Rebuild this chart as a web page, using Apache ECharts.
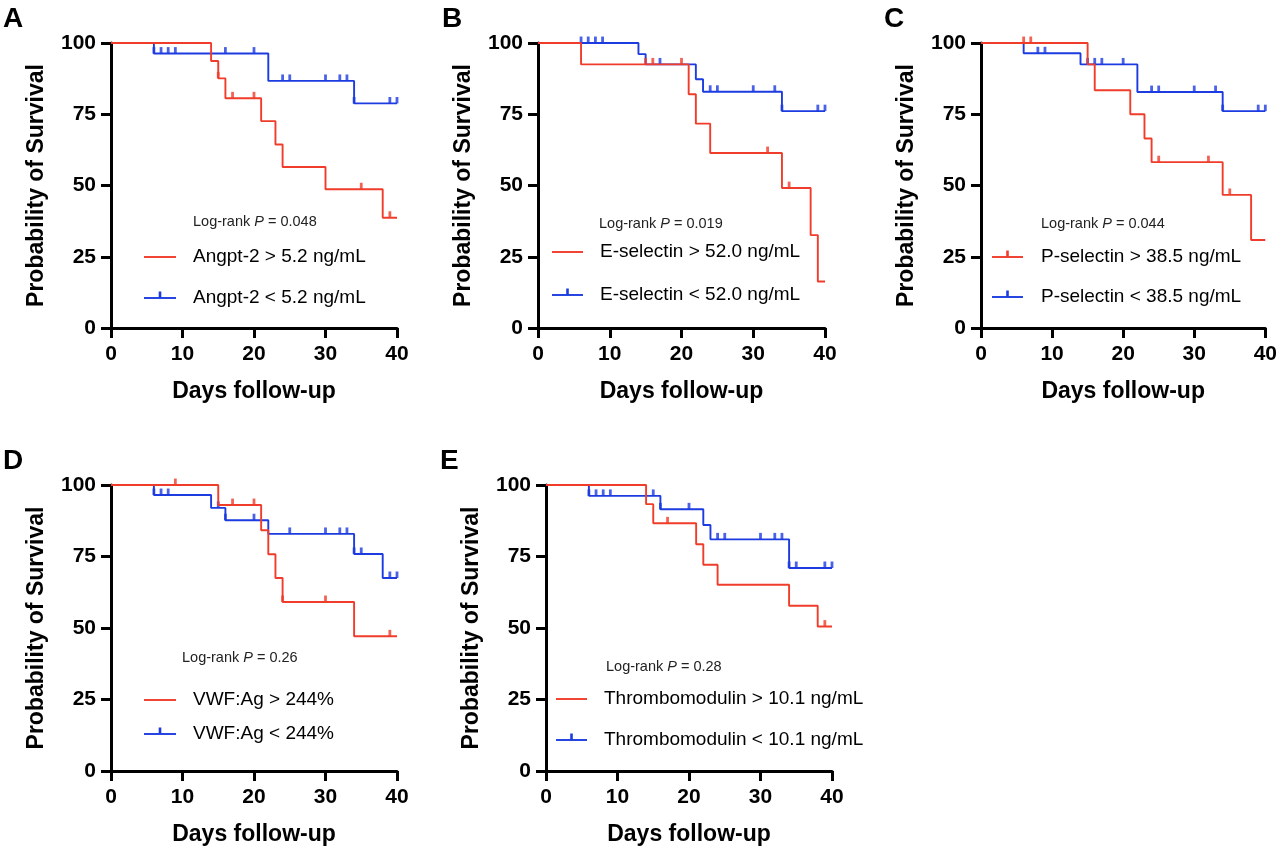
<!DOCTYPE html>
<html><head><meta charset="utf-8">
<script src="https://cdn.jsdelivr.net/npm/echarts@6/dist/echarts.min.js"></script>
<style>html,body{margin:0;padding:0;background:#fff}#c{width:1280px;height:849px}</style>
</head><body><div id="c"></div>
<script>
// ---------- DATA ----------
const panelLetters = ['A', 'B', 'C', 'D', 'E'];
const xTitle = 'Days follow-up';
const yTitle = 'Probability of Survival';

// A: Angpt-2
const A_labels = ['Angpt-2 > 5.2 ng/mL', 'Angpt-2 < 5.2 ng/mL'];
const A_p = '0.048';
const A_high_t = [0, 14, 15, 16, 21, 23, 24, 30, 38, 40];
const A_high_s = [100, 93.7, 87.6, 80.6, 72.6, 64.4, 56.5, 48.7, 38.7, 38.7];
const A_high_c = [15, 17, 20, 35, 39];
const A_low_t = [0, 6, 22, 34, 40];
const A_low_s = [100, 96.3, 86.7, 78.8, 78.8];
const A_low_c = [6, 7, 8, 9, 16, 20, 24, 25, 30, 32, 33, 34, 39, 40];

// B: E-selectin
const B_labels = ['E-selectin > 52.0 ng/mL', 'E-selectin < 52.0 ng/mL'];
const B_p = '0.019';
const B_high_t = [0, 6, 21, 22, 24, 34, 38, 39, 40];
const B_high_s = [100, 92.5, 82, 71.7, 61.4, 49.1, 32.6, 16.3, 16.3];
const B_high_c = [15, 16, 20, 32, 35];
const B_low_t = [0, 14, 15, 22, 23, 34, 40];
const B_low_s = [100, 96.1, 92.5, 87.3, 82.9, 76.1, 76.1];
const B_low_c = [6, 7, 8, 9, 17, 24, 25, 30, 33, 34, 39, 40];

// C: P-selectin
const C_labels = ['P-selectin > 38.5 ng/mL', 'P-selectin < 38.5 ng/mL'];
const C_p = '0.044';
const C_high_t = [0, 15, 16, 21, 23, 24, 34, 38, 40];
const C_high_s = [100, 92.5, 83.4, 75, 66.5, 58.2, 46.7, 30.9, 30.9];
const C_high_c = [6, 7, 25, 32, 35];
const C_low_t = [0, 6, 14, 22, 34, 40];
const C_low_s = [100, 96.4, 92.5, 82.8, 76.1, 76.1];
const C_low_c = [8, 9, 15, 16, 17, 20, 24, 25, 30, 33, 34, 39, 40];

// D: VWF:Ag
const D_labels = ['VWF:Ag > 244%', 'VWF:Ag < 244%'];
const D_p = '0.26';
const D_high_t = [0, 15, 21, 22, 23, 24, 34, 40];
const D_high_s = [100, 93, 84.2, 75.8, 67.5, 59.1, 47.1, 47.1];
const D_high_c = [9, 17, 20, 24, 30, 39];
const D_low_t = [0, 6, 14, 16, 22, 34, 38, 40];
const D_low_s = [100, 96.5, 92, 87.7, 82.9, 75.9, 67.5, 67.5];
const D_low_c = [6, 7, 8, 15, 16, 20, 25, 30, 32, 33, 34, 35, 39, 40];

// E: Thrombomodulin
const E_labels = ['Thrombomodulin > 10.1 ng/mL', 'Thrombomodulin < 10.1 ng/mL'];
const E_p = '0.28';
const E_high_t = [0, 14, 15, 21, 22, 24, 34, 38, 40];
const E_high_s = [100, 93.3, 86.6, 79.3, 72.1, 65.1, 57.8, 50.5, 50.5];
const E_high_c = [17, 39];
const E_low_t = [0, 6, 16, 22, 23, 34, 40];
const E_low_s = [100, 96.2, 91.5, 86, 81, 71, 71];
const E_low_c = [6, 7, 8, 9, 15, 16, 20, 24, 25, 30, 32, 33, 34, 35, 39, 40];

// ---------- LAYOUT / STYLE ----------
const RED = '#f03c2a', BLUE = '#1c3be0';
const FONT = '"Liberation Sans", Arial, sans-serif';
const panels = [
  {letter:'A', grid:{left:111, top:43, width:286, height:285}, labels:A_labels, p:A_p,
   hi:[A_high_t, A_high_s, A_high_c], lo:[A_low_t, A_low_s, A_low_c],
   pPos:[193,222], lx:[144,176,193], ly:[257,298], redTick:false, letterPos:[3,5]},
  {letter:'B', grid:{left:538, top:43, width:287, height:285}, labels:B_labels, p:B_p,
   hi:[B_high_t, B_high_s, B_high_c], lo:[B_low_t, B_low_s, B_low_c],
   pPos:[599,224], lx:[552,583,600], ly:[252,295], redTick:false, letterPos:[442,5]},
  {letter:'C', grid:{left:981, top:43, width:286, height:285}, labels:C_labels, p:C_p,
   hi:[C_high_t, C_high_s, C_high_c], lo:[C_low_t, C_low_s, C_low_c],
   pPos:[1041,224], lx:[992,1023,1041], ly:[257,297], redTick:true, letterPos:[884,5]},
  {letter:'D', grid:{left:111, top:485, width:286, height:286}, labels:D_labels, p:D_p,
   hi:[D_high_t, D_high_s, D_high_c], lo:[D_low_t, D_low_s, D_low_c],
   pPos:[182,658], lx:[144,176,193], ly:[700,734], redTick:false, letterPos:[3,447]},
  {letter:'E', grid:{left:546, top:485, width:286, height:286}, labels:E_labels, p:E_p,
   hi:[E_high_t, E_high_s, E_high_c], lo:[E_low_t, E_low_s, E_low_c],
   pPos:[606,667], lx:[556,587,604], ly:[699,740], redTick:false, letterPos:[440,447]}
];

function survAt(ts, ss, t) {
  let v = ss[0];
  for (let i = 0; i < ts.length; i++) if (ts[i] <= t) v = ss[i];
  return v;
}
function zip(ts, ss) { return ts.map((t, i) => [t, ss[i]]); }

const grids = [], xAxes = [], yAxes = [], series = [], graphics = [];
panels.forEach((p, i) => {
  grids.push(Object.assign({containLabel:false}, p.grid));
  xAxes.push({
    gridIndex:i, type:'value', min:0, max:40, interval:10,
    name:xTitle, nameLocation:'middle', nameGap:52,
    nameTextStyle:{fontSize:23, fontWeight:'bold', color:'#000', fontFamily:FONT},
    axisLine:{show:true, onZero:false, lineStyle:{color:'#000', width:3}},
    axisTick:{show:true, length:10, lineStyle:{color:'#000', width:3}},
    axisLabel:{fontSize:21, fontWeight:'bold', color:'#000', fontFamily:FONT, margin:16},
    splitLine:{show:false}
  });
  yAxes.push({
    gridIndex:i, type:'value', min:0, max:100, interval:25,
    name:yTitle, nameLocation:'middle', nameGap:63,
    nameTextStyle:{fontSize:23, fontWeight:'bold', color:'#000', fontFamily:FONT},
    axisLine:{show:true, onZero:false, lineStyle:{color:'#000', width:3}},
    axisTick:{show:true, length:10, lineStyle:{color:'#000', width:3}},
    axisLabel:{fontSize:21, fontWeight:'bold', color:'#000', fontFamily:FONT, margin:15},
    splitLine:{show:false}
  });
  const groups = [[p.lo, BLUE, 2], [p.hi, RED, 3]];
  groups.forEach(([g, col, z]) => {
    const [ts, ss, cs] = g;
    series.push({
      type:'line', xAxisIndex:i, yAxisIndex:i, step:'end', data:zip(ts, ss),
      showSymbol:false, symbol:'none', silent:true, z:z,
      lineStyle:{color:col, width:1.9}
    });
    series.push({
      type:'scatter', xAxisIndex:i, yAxisIndex:i, silent:true, z:z,
      data:cs.map(t => [t, survAt(ts, ss, t)]),
      symbol:'rect', symbolSize:[2.8, 6.5], symbolOffset:[0, -3.2],
      itemStyle:{color:col}
    });
  });
  // panel letter
  graphics.push({type:'text', left:p.letterPos[0], top:p.letterPos[1],
    style:{text:p.letter, fontSize:28, fontWeight:'bold', fontFamily:FONT, fill:'#000'}});
  // p-value
  graphics.push({type:'text', x:p.pPos[0], y:p.pPos[1],
    style:{text:'Log-rank {i|P} = ' + p.p, fontSize:14.5, fontFamily:FONT, fill:'#222',
      verticalAlign:'middle', align:'left',
      rich:{i:{fontStyle:'italic', fontSize:14.5, fontFamily:FONT, fill:'#222'}}}});
  // legend entries
  [[RED, p.labels[0], p.ly[0], p.redTick], [BLUE, p.labels[1], p.ly[1], true]].forEach(([col, txt, y, tick]) => {
    graphics.push({type:'line', shape:{x1:p.lx[0], y1:y, x2:p.lx[1], y2:y},
      style:{stroke:col, lineWidth:1.9}});
    if (tick) {
      const mx = (p.lx[0] + p.lx[1]) / 2;
      graphics.push({type:'rect', shape:{x:mx - 1.3, y:y - 6.5, width:2.6, height:6.5},
        style:{fill:col}});
    }
    graphics.push({type:'text', x:p.lx[2], y:y,
      style:{text:txt, fontSize:19, fontFamily:FONT, fill:'#000', verticalAlign:'middle', align:'left'}});
  });
});

const chart = echarts.init(document.getElementById('c'), null, {renderer:'canvas'});
chart.setOption({
  animation:false, backgroundColor:'#fff',
  grid:grids, xAxis:xAxes, yAxis:yAxes, series:series, graphic:graphics
});
</script></body></html>
